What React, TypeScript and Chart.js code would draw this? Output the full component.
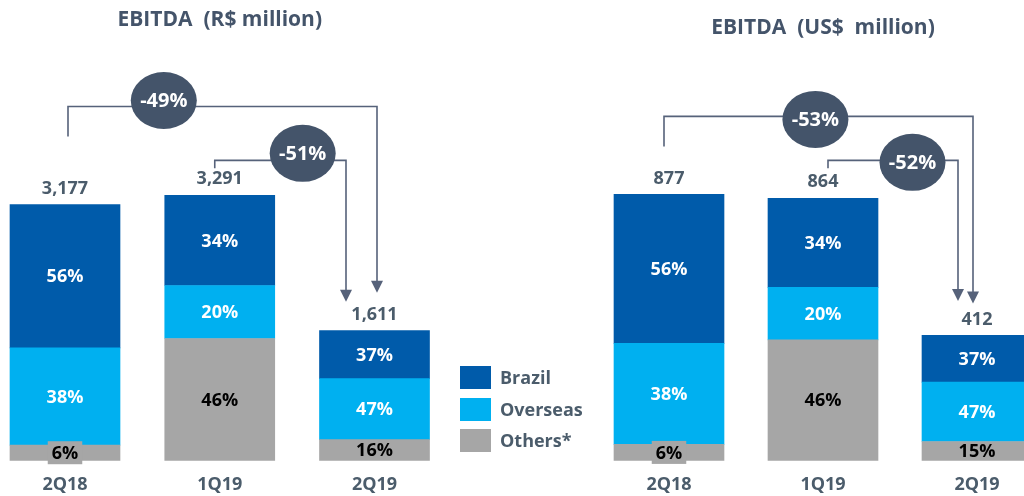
import React, { useEffect, useRef } from "react";
import { Chart, registerables } from "chart.js";

Chart.register(...registerables);

// ---------- data ----------
const CATEGORIES = ["2Q18", "1Q19", "2Q19"];
const SERIES_NAMES = ["Brazil", "Overseas", "Others*"];

const BRL_TOTALS = [3177, 3291, 1611];
const BRL_BRAZIL_PCT = [56, 34, 37];
const BRL_OVERSEAS_PCT = [38, 20, 47];
const BRL_OTHERS_PCT = [6, 46, 16];

const USD_TOTALS = [877, 864, 412];
const USD_BRAZIL_PCT = [56, 34, 37];
const USD_OVERSEAS_PCT = [38, 20, 47];
const USD_OTHERS_PCT = [6, 46, 15];

const BRL_CHANGES = [
  { from: 0, to: 2, label: "-49%" },
  { from: 1, to: 2, label: "-51%" },
];
const USD_CHANGES = [
  { from: 0, to: 2, label: "-53%" },
  { from: 1, to: 2, label: "-52%" },
];

// ---------- styling ----------
const COLORS = { brazil: "#005BAA", overseas: "#00B0F0", others: "#A6A6A6" };
const TEXT_COLOR = "#4B5C6B";
const TITLE_COLOR = "#44546A";
const BUBBLE_COLOR = "#44546A";
const LINE_COLOR = "#56627A";
const FONT = "'Open Sans', 'Noto Sans', sans-serif";
const CANVAS_H = 510;

const BRL_CONNECTOR_STYLE = [
  { dxStart: 3, startGap: 68, rise: 30, dxEnd: 2.5, endGap: 38, at: 0.31, dy: -6 },
  { dxStart: -5, startGap: 27, rise: 8, dxEnd: -28.5, endGap: 29, at: 0.67, dy: -7 },
];
const USD_CONNECTOR_STYLE = [
  { dxStart: -5, startGap: 48, rise: 30, dxEnd: -4, endGap: 32, at: 0.49, dy: 3 },
  { dxStart: 5, startGap: 30, rise: 8, dxEnd: -19, endGap: 34.5, at: 0.65, dy: 2 },
];

const normalize = (total: number, pct: number, i: number, all: number[][]) => {
  const sum = all.reduce((s, a) => s + a[i], 0);
  return (total * pct) / sum;
};

const annotatePlugin = {
  id: "annotate",
  afterDatasetsDraw(chart: any) {
    const o = chart.options.plugins.annotate;
    if (!o) return;
    const { ctx } = chart;
    const xs = chart.scales.x;
    const ys = chart.scales.y;
    ctx.save();

    // segment labels
    chart.data.datasets.forEach((ds: any, d: number) => {
      const meta = chart.getDatasetMeta(d);
      meta.data.forEach((bar: any, i: number) => {
        const p = bar.getProps(["x", "y", "base"], true);
        const top = Math.min(p.y, p.base);
        const bottom = Math.max(p.y, p.base);
        const h = bottom - top;
        const cy = (top + bottom) / 2;
        const label = o.pcts[d][i] + "%";
        ctx.font = "bold 18px " + FONT;
        const tw = ctx.measureText(label).width;
        if (h < 16) {
          ctx.fillStyle = ds.backgroundColor;
          ctx.fillRect(p.x - tw / 2 - 4, cy - 11.5, tw + 8, 23);
        }
        ctx.fillStyle = o.labelColors[d];
        ctx.textAlign = "center";
        ctx.textBaseline = "middle";
        ctx.fillText(label, p.x, cy + 1);
      });
    });

    // totals
    const topMeta = chart.getDatasetMeta(chart.data.datasets.length - 1);
    topMeta.data.forEach((bar: any, i: number) => {
      const p = bar.getProps(["x", "y"], true);
      ctx.font = "bold 18px " + FONT;
      ctx.fillStyle = TEXT_COLOR;
      ctx.textAlign = "center";
      ctx.textBaseline = "middle";
      ctx.fillText(o.totals[i].toLocaleString("en-US"), p.x, p.y - 16);
    });

    // connectors
    o.changes.forEach((c: any, k: number) => {
      const s = o.connectorStyle[k];
      const x1 = xs.getPixelForValue(c.from) + s.dxStart;
      const x2 = xs.getPixelForValue(c.to) + s.dxEnd;
      const y1 = ys.getPixelForValue(o.totals[c.from]) - s.startGap;
      const level = y1 - s.rise;
      const tip = ys.getPixelForValue(o.totals[c.to]) - s.endGap;
      const head = 12;
      ctx.strokeStyle = LINE_COLOR;
      ctx.lineWidth = 1.6;
      ctx.beginPath();
      ctx.moveTo(x1, y1);
      ctx.lineTo(x1, level);
      ctx.lineTo(x2, level);
      ctx.lineTo(x2, tip - head + 1);
      ctx.stroke();
      ctx.fillStyle = LINE_COLOR;
      ctx.beginPath();
      ctx.moveTo(x2 - 6, tip - head);
      ctx.lineTo(x2 + 6, tip - head);
      ctx.lineTo(x2, tip);
      ctx.closePath();
      ctx.fill();

      const ex = x1 + s.at * (x2 - x1);
      const ey = level + s.dy;
      ctx.fillStyle = BUBBLE_COLOR;
      ctx.beginPath();
      ctx.ellipse(ex, ey, 33, 28.5, 0, 0, Math.PI * 2);
      ctx.fill();
      ctx.font = "bold 20px " + FONT;
      ctx.fillStyle = "#FFFFFF";
      ctx.textAlign = "center";
      ctx.textBaseline = "middle";
      ctx.fillText(c.label, ex, ey + 1);
    });

    // title
    ctx.font = "bold 21px " + FONT;
    ctx.fillStyle = TITLE_COLOR;
    ctx.textAlign = "center";
    ctx.textBaseline = "middle";
    ctx.fillText(o.title, (xs.left + xs.right) / 2, o.titleY);

    ctx.restore();
  },
};

type Props = {
  totals: number[];
  brazil: number[];
  overseas: number[];
  others: number[];
  yMax: number;
  changes: { from: number; to: number; label: string }[];
  connectorStyle: any[];
  title: string;
  titleY: number;
  left: number;
  width: number;
  padLeft: number;
  padRight: number;
};

function StackChart(props: Props) {
  const ref = useRef<HTMLCanvasElement>(null);
  useEffect(() => {
    const all = [props.others, props.overseas, props.brazil];
    const values = (arr: number[]) =>
      props.totals.map((t, i) => normalize(t, arr[i], i, all));
    const chart = new Chart(ref.current!, {
      type: "bar",
      data: {
        labels: CATEGORIES,
        datasets: [
          { label: SERIES_NAMES[2], data: values(props.others), backgroundColor: COLORS.others },
          { label: SERIES_NAMES[1], data: values(props.overseas), backgroundColor: COLORS.overseas },
          { label: SERIES_NAMES[0], data: values(props.brazil), backgroundColor: COLORS.brazil },
        ].map((d) => ({ ...d, barThickness: 110, borderWidth: 0, clip: false as any })),
      },
      options: {
        animation: false,
        responsive: false,
        maintainAspectRatio: false,
        layout: { padding: { left: props.padLeft, right: props.padRight, top: 40, bottom: 0 } },
        scales: {
          x: {
            stacked: true,
            offset: false,
            grid: { display: false, drawTicks: false },
            border: { display: false },
            ticks: {
              autoSkip: false,
              maxRotation: 0,
              padding: 14,
              color: TEXT_COLOR,
              font: { family: FONT, size: 18, weight: "bold" },
            },
          },
          y: { stacked: true, display: false, min: 0, max: props.yMax },
        },
        plugins: {
          legend: { display: false },
          tooltip: { enabled: false },
          annotate: {
            totals: props.totals,
            pcts: all,
            labelColors: ["#000000", "#FFFFFF", "#FFFFFF"],
            changes: props.changes,
            connectorStyle: props.connectorStyle,
            title: props.title,
            titleY: props.titleY,
          },
        } as any,
      },
      plugins: [annotatePlugin],
    });
    return () => chart.destroy();
  }, []);
  return (
    <canvas
      ref={ref}
      width={props.width}
      height={CANVAS_H}
      style={{ position: "absolute", left: props.left, top: 0, width: props.width, height: CANVAS_H }}
    />
  );
}

function Legend() {
  const items = [
    { name: SERIES_NAMES[0], color: COLORS.brazil },
    { name: SERIES_NAMES[1], color: COLORS.overseas },
    { name: SERIES_NAMES[2], color: COLORS.others },
  ];
  return (
    <div style={{ position: "absolute", left: 460, top: 366 }}>
      {items.map((it) => (
        <div key={it.name} style={{ display: "flex", alignItems: "center", height: 23, marginBottom: 8.5 }}>
          <div style={{ width: 31, height: 23, background: it.color }} />
          <span
            style={{
              marginLeft: 9,
              font: "bold 18px " + FONT,
              color: TEXT_COLOR,
              lineHeight: "23px",
            }}
          >
            {it.name}
          </span>
        </div>
      ))}
    </div>
  );
}

export default function App() {
  return (
    <div style={{ position: "absolute", left: 0, top: 0, width: 1024, height: 496, background: "#fff", overflow: "hidden" }}>
      <StackChart
        totals={BRL_TOTALS}
        brazil={BRL_BRAZIL_PCT}
        overseas={BRL_OVERSEAS_PCT}
        others={BRL_OTHERS_PCT}
        yMax={5220}
        changes={BRL_CHANGES}
        connectorStyle={BRL_CONNECTOR_STYLE}
        title="EBITDA  (R$ million)"
        titleY={20}
        left={0}
        width={450}
        padLeft={65}
        padRight={75.5}
      />
      <StackChart
        totals={USD_TOTALS}
        brazil={USD_BRAZIL_PCT}
        overseas={USD_OVERSEAS_PCT}
        others={USD_OTHERS_PCT}
        yMax={1386}
        changes={USD_CHANGES}
        connectorStyle={USD_CONNECTOR_STYLE}
        title="EBITDA  (US$  million)"
        titleY={28}
        left={540}
        width={484}
        padLeft={129}
        padRight={47}
      />
      <Legend />
    </div>
  );
}
